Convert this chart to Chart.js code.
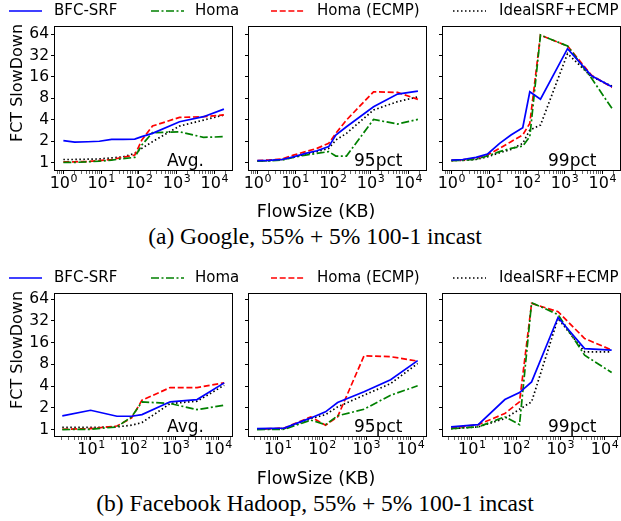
<!DOCTYPE html>
<html>
<head>
<meta charset="utf-8">
<script src="https://cdn.jsdelivr.net/npm/chart.js@4.4.0/dist/chart.umd.min.js"></script>
<style>
html, body { margin: 0; padding: 0; background: #fff; overflow: hidden; }
body { width: 621px; height: 521px; position: relative; font-family: 'DejaVu Sans', sans-serif; color: #000; }
canvas, .txt, svg { position: absolute; }
.txt { white-space: nowrap; line-height: 1; }
</style>
</head>
<body>
<script>
// flow size buckets (KB)
const googleSizes = [1, 2, 4.5, 9, 19, 38, 78, 120, 230, 1200, 5200, 18000];
const hadoopSizesAvg = [2.1, 9.8, 41, 91, 160, 740, 3200, 14000];
const hadoopSizesPct = [3.4, 14, 56, 120, 225, 890, 3550, 14500];

// (a) Google
const googleAvgBfc = [2.04, 1.95, 1.97, 2.0, 2.13, 2.13, 2.15, 2.32, 2.58, 3.76, 4.43, 5.66];
const googleAvgHoma = [1.01, 1.01, 1.03, 1.05, 1.09, 1.14, 1.19, 1.77, 2.64, 2.72, 2.27, 2.32];
const googleAvgHomaEcmp = [1.03, 1.03, 1.04, 1.07, 1.11, 1.19, 1.28, 2.08, 3.27, 4.33, 4.43, 4.7];
const googleAvgIdeal = [1.11, 1.11, 1.12, 1.13, 1.17, 1.21, 1.35, 1.59, 1.97, 3.27, 3.97, 4.67];

const google95Bfc = [1.07, 1.08, 1.11, 1.21, 1.35, 1.47, 1.68, 2.45, 3.2, 6.1, 9.2, 10.1];
const google95Homa = [1.05, 1.06, 1.09, 1.19, 1.28, 1.35, 1.43, 1.24, 1.24, 4.05, 3.49, 4.05];
const google95HomaEcmp = [1.07, 1.09, 1.13, 1.28, 1.43, 1.59, 1.87, 2.58, 3.97, 9.9, 9.7, 7.75];
const google95Ideal = [1.05, 1.07, 1.11, 1.19, 1.32, 1.43, 1.59, 2.08, 2.58, 5.5, 7.2, 8.4];

const google99Bfc = [1.09, 1.11, 1.19, 1.32, 1.87, 2.45, 3.1, 9.9, 7.8, 40, 16.6, 11.7];
const google99Homa = [1.07, 1.08, 1.12, 1.24, 1.43, 1.59, 1.71, 2.32, 62, 43.5, 15.3, 5.8];
const google99HomaEcmp = [1.08, 1.1, 1.16, 1.28, 1.59, 1.97, 2.45, 3.57, 62, 43.5, 16.9, 11.4];
const google99Ideal = [1.07, 1.08, 1.11, 1.21, 1.38, 1.54, 1.87, 2.87, 3.38, 34, 16.1, 11.9];

// (b) Facebook Hadoop
const hadoopAvgBfc = [1.55, 1.85, 1.53, 1.53, 1.61, 2.42, 2.6, 4.43];
const hadoopAvgHoma = [1.0, 1.01, 1.09, 1.5, 2.42, 2.29, 1.89, 2.17];
const hadoopAvgHomaEcmp = [1.01, 1.03, 1.12, 1.45, 2.55, 3.81, 3.81, 4.43];
const hadoopAvgIdeal = [1.07, 1.07, 1.09, 1.15, 1.25, 2.29, 2.47, 4.1];

const hadoop95Bfc = [1.03, 1.05, 1.45, 1.76, 2.37, 3.33, 4.9, 9.0];
const hadoop95Homa = [1.0, 1.01, 1.35, 1.17, 1.55, 1.91, 2.99, 4.03];
const hadoop95HomaEcmp = [1.01, 1.05, 1.5, 1.15, 1.5, 10.5, 10.2, 8.85];
const hadoop95Ideal = [1.02, 1.03, 1.42, 1.61, 2.06, 2.99, 4.33, 8.2];

const hadoop99Bfc = [1.09, 1.17, 2.6, 3.25, 4.57, 35.5, 13.2, 12.6];
const hadoop99Homa = [1.03, 1.09, 1.5, 1.17, 57, 39, 10.7, 6.15];
const hadoop99HomaEcmp = [1.05, 1.17, 1.67, 2.42, 55.6, 42.7, 18.2, 12.6];
const hadoop99Ideal = [1.03, 1.09, 1.42, 1.91, 2.42, 34.5, 11.9, 11.9];

const seriesNames = ['BFC-SRF', 'Homa', 'Homa (ECMP)', 'IdealSRF+ECMP'];
const yTicks = [1, 2, 4, 8, 16, 32, 64];
const panelTags = ['Avg.', '95pct', '99pct'];

const styles = [
    { color: '#0000ff', dash: [] },
    { color: '#008000', dash: [8, 2.5, 2, 2.5] },
    { color: '#ff0000', dash: [6, 2.7] },
    { color: '#000000', dash: [1.5, 2.5] }
];

Chart.defaults.font.family = "'DejaVu Sans', sans-serif";
Chart.defaults.color = '#000';

// box round the plot, like matplotlib spines
const framePlugin = {
    id: 'frame',
    afterDatasetsDraw(chart) {
        const a = chart.chartArea;
        const ctx = chart.ctx;
        ctx.save();
        ctx.strokeStyle = '#000';
        ctx.lineWidth = 1;
        ctx.strokeRect(a.left - 0.5, a.top - 0.5, a.right - a.left + 1, a.bottom - a.top + 1);
        ctx.restore();
    }
};

// "10" with a raised exponent under each decade tick
const powLabels = {
    id: 'powLabels',
    afterDraw(chart) {
        const s = chart.scales.x;
        const ctx = chart.ctx;
        const base = chart.chartArea.bottom + 18;
        ctx.save();
        ctx.fillStyle = '#000';
        ctx.textBaseline = 'alphabetic';
        ctx.textAlign = 'left';
        s.ticks.forEach(t => {
            if (!t.major) return;
            const e = String(Math.round(Math.log10(t.value)));
            ctx.font = "16px 'DejaVu Sans'";
            const w1 = ctx.measureText('10').width;
            ctx.font = "11px 'DejaVu Sans'";
            const w2 = ctx.measureText(e).width;
            const x0 = s.getPixelForValue(t.value) - (w1 + w2) / 2;
            ctx.font = "16px 'DejaVu Sans'";
            ctx.fillText('10', x0, base);
            ctx.font = "11px 'DejaVu Sans'";
            ctx.fillText(e, x0 + w1 + 0.5, base - 6.5);
        });
        ctx.restore();
    }
};

function logTicks(min, max) {
    const out = [];
    for (let e = -1; e <= 5; e++) {
        for (let m = 1; m <= 9; m++) {
            const v = m * Math.pow(10, e);
            if (v >= min && v <= max) out.push({ value: v, major: m === 1 });
        }
    }
    return out;
}

function addText(str, x, y, css) {
    const d = document.createElement('div');
    d.className = 'txt';
    d.textContent = str;
    d.style.left = x + 'px';
    d.style.top = y + 'px';
    Object.assign(d.style, css || {});
    document.body.appendChild(d);
    return d;
}

function makePanel(left, top, w, h, xr, yr, sizes, series, showY) {
    const padT = 12, padR = 6, yW = 45, xH = 28;
    const cv = document.createElement('canvas');
    cv.width = yW + w + padR;
    cv.height = padT + h + xH;
    cv.style.left = (left - yW) + 'px';
    cv.style.top = (top - padT) + 'px';
    document.body.appendChild(cv);

    const xMin = Math.pow(10, xr[0]), xMax = Math.pow(10, xr[1]);
    new Chart(cv, {
        type: 'line',
        data: {
            datasets: series.map((vals, k) => ({
                label: seriesNames[k],
                data: sizes.map((x, i) => ({ x: x, y: vals[i] })),
                borderColor: styles[k].color,
                borderDash: styles[k].dash,
                borderWidth: 1.7,
                pointRadius: 0,
                tension: 0,
                fill: false
            }))
        },
        options: {
            responsive: false,
            animation: false,
            devicePixelRatio: 1,
            layout: { padding: { top: padT, right: padR, left: 0, bottom: 0 } },
            plugins: { legend: { display: false }, tooltip: { enabled: false } },
            scales: {
                x: {
                    type: 'logarithmic',
                    min: xMin,
                    max: xMax,
                    border: { display: false },
                    grid: {
                        drawOnChartArea: false,
                        drawTicks: true,
                        tickLength: 4,
                        tickColor: '#000',
                        tickWidth: (c) => (c.tick && c.tick.major ? 1 : 0.6)
                    },
                    ticks: { display: false },
                    afterBuildTicks: (s) => { s.ticks = logTicks(xMin, xMax); },
                    afterFit: (s) => { s.height = xH; }
                },
                y: {
                    type: 'logarithmic',
                    min: Math.pow(2, yr[0]),
                    max: Math.pow(2, yr[1]),
                    border: { display: false },
                    grid: {
                        drawOnChartArea: false,
                        drawTicks: true,
                        tickLength: 4,
                        tickColor: '#000',
                        tickWidth: 1
                    },
                    ticks: {
                        display: showY,
                        padding: 2,
                        font: { size: 15.5 },
                        callback: (v) => String(v)
                    },
                    afterBuildTicks: (s) => { s.ticks = yTicks.map(v => ({ value: v })); },
                    afterFit: (s) => { s.width = yW; }
                }
            }
        },
        plugins: [framePlugin, powLabels]
    });
}

function legendRow(y) {
    const items = [[9, 54], [151, 195], [271, 317], [453, 499]];
    items.forEach((it, k) => {
        const svg = document.createElementNS('http://www.w3.org/2000/svg', 'svg');
        svg.setAttribute('width', 34);
        svg.setAttribute('height', 6);
        svg.style.left = it[0] + 'px';
        svg.style.top = (y - 3) + 'px';
        const ln = document.createElementNS('http://www.w3.org/2000/svg', 'line');
        ln.setAttribute('x1', 0); ln.setAttribute('x2', 33);
        ln.setAttribute('y1', 3); ln.setAttribute('y2', 3);
        ln.setAttribute('stroke', styles[k].color);
        ln.setAttribute('stroke-width', 1.7);
        if (styles[k].dash.length) ln.setAttribute('stroke-dasharray', styles[k].dash.join(' '));
        svg.appendChild(ln);
        document.body.appendChild(svg);
        addText(seriesNames[k], it[1], y - 7.5, { fontSize: '15px' });
    });
}

const cols = [55, 249, 443];
const panelW = 177;
const rows = [
    { top: 27, h: 143, xr: [-0.21, 4.47], xr0: [-0.21, 4.47], yr: [-0.34, 6.33], legendY: 10.5,
      title: '(a) Google, 55% + 5% 100-1 incast',
      sizes: [googleSizes, googleSizes, googleSizes],
      series: [
          [googleAvgBfc, googleAvgHoma, googleAvgHomaEcmp, googleAvgIdeal],
          [google95Bfc, google95Homa, google95HomaEcmp, google95Ideal],
          [google99Bfc, google99Homa, google99HomaEcmp, google99Ideal]
      ] },
    { top: 294, h: 142, xr: [0.35, 4.35], xr0: [0.15, 4.33], yr: [-0.295, 6.23], legendY: 277.5,
      title: '(b) Facebook Hadoop, 55% + 5% 100-1 incast',
      sizes: [hadoopSizesAvg, hadoopSizesPct, hadoopSizesPct],
      series: [
          [hadoopAvgBfc, hadoopAvgHoma, hadoopAvgHomaEcmp, hadoopAvgIdeal],
          [hadoop95Bfc, hadoop95Homa, hadoop95HomaEcmp, hadoop95Ideal],
          [hadoop99Bfc, hadoop99Homa, hadoop99HomaEcmp, hadoop99Ideal]
      ] }
];

rows.forEach((row) => {
    cols.forEach((left, c) => {
        makePanel(left, row.top, panelW, row.h, c === 0 ? row.xr0 : row.xr, row.yr, row.sizes[c], row.series[c], c === 0);
        addText(panelTags[c], left + (c === 0 ? 112 : 105), row.top + row.h - 18.5, { fontSize: '17px' });
    });
    legendRow(row.legendY);
    addText('FCT SlowDown', 17, row.top + 55.5, { fontSize: '16px', transform: 'translate(-50%, -50%) rotate(-90deg)' });
    addText('FlowSize (KB)', 316, row.top + 176, { fontSize: '17.5px', transform: 'translateX(-50%)' });
    addText(row.title, 315, row.top + 197.5, { fontSize: '23.5px', fontFamily: "'Liberation Serif', serif", transform: 'translateX(-50%)' });
});
</script>
</body>
</html>
